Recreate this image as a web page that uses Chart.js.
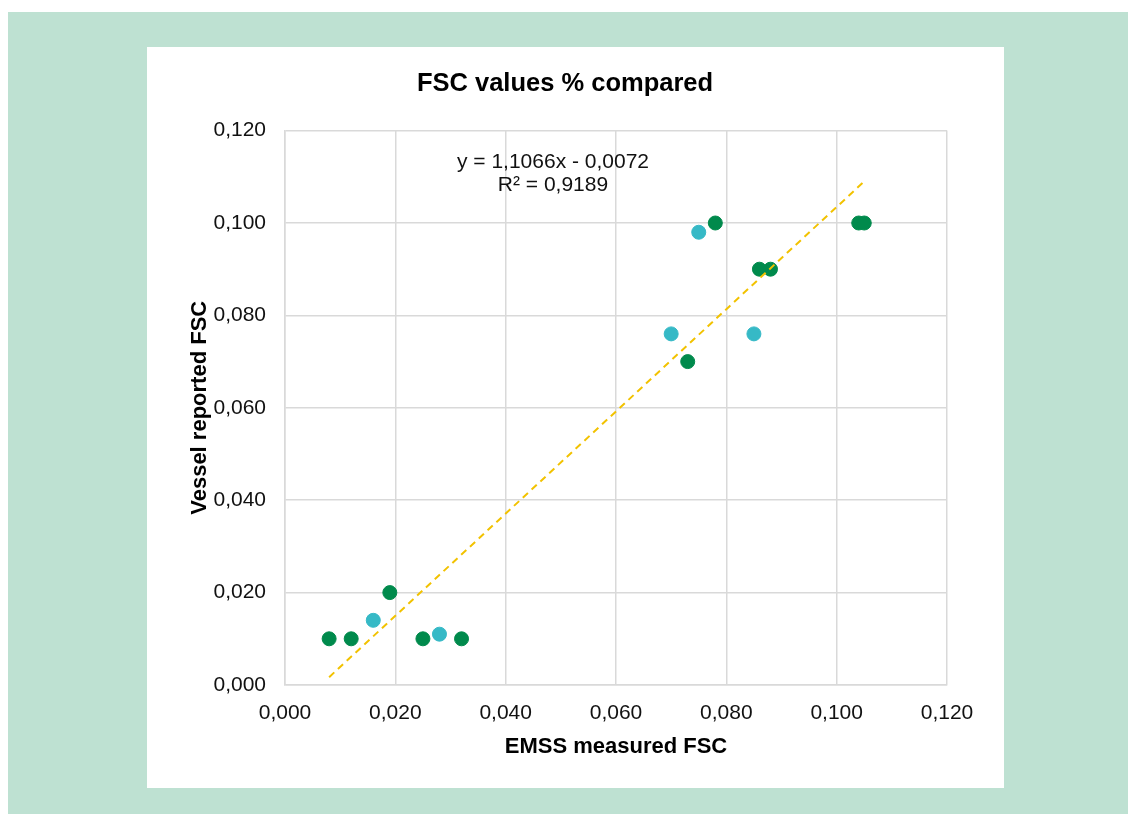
<!DOCTYPE html>
<html>
<head>
<meta charset="utf-8">
<script src="https://cdn.jsdelivr.net/npm/chart.js@4/dist/chart.umd.min.js"></script>
<style>
  html, body { margin: 0; padding: 0; background: #ffffff; width: 1128px; height: 814px; overflow: hidden; }
  #bg { position: absolute; left: 8px; top: 12px; width: 1120px; height: 802px; background: #bee1d2; }
  #panel { position: absolute; left: 147px; top: 47px; width: 857px; height: 741px; background: #ffffff; }
  canvas { display: block; }
</style>
</head>
<body>
<div id="bg"></div>
<div id="panel"><canvas id="c" width="857" height="741"></canvas></div>
<script>
// Series A (dark green): EMSS measured FSC vs vessel reported FSC
const greenX = [0.008, 0.012, 0.019, 0.025, 0.032, 0.073, 0.078, 0.086, 0.088, 0.104, 0.105];
const greenY = [0.010, 0.010, 0.020, 0.010, 0.010, 0.070, 0.100, 0.090, 0.090, 0.100, 0.100];
// Series B (turquoise)
const cyanX = [0.016, 0.028, 0.070, 0.075, 0.085];
const cyanY = [0.014, 0.011, 0.076, 0.098, 0.076];
// Linear trendline end points as drawn
const trendX = [0.008, 0.105];
const trendY = [0.0017, 0.1090];
// Tick values
const tickValues = [0.000, 0.020, 0.040, 0.060, 0.080, 0.100, 0.120];
const titleText = 'FSC values % compared';
const xTitle = 'EMSS measured FSC';
const yTitle = 'Vessel reported FSC';
const eqLines = ['y = 1,1066x - 0,0072', 'R² = 0,9189'];

const toPts = (xs, ys) => xs.map((x, i) => ({ x: x, y: ys[i] }));
const fmt = v => Number(v).toFixed(3).replace('.', ',');
const FONT = "'Liberation Sans', Arial, sans-serif";

const eqPlugin = {
  id: 'eq',
  afterDraw(chart) {
    const ctx = chart.ctx;
    const a = chart.chartArea;
    ctx.save();
    ctx.font = '21px ' + FONT;
    ctx.fillStyle = '#111';
    ctx.textAlign = 'center';
    ctx.textBaseline = 'middle';
    ctx.fillText(eqLines[0], a.left + 268, a.top + 32);
    ctx.fillText(eqLines[1], a.left + 268, a.top + 55);
    ctx.restore();
  }
};

new Chart(document.getElementById('c'), {
  type: 'scatter',
  data: {
    datasets: [
      {
        type: 'line',
        label: 'Trend',
        data: toPts(trendX, trendY),
        borderColor: '#f2c200',
        borderWidth: 2,
        borderDash: [7, 5],
        pointRadius: 0,
        fill: false,
        order: 0
      },
      {
        label: 'A',
        data: toPts(greenX, greenY),
        backgroundColor: '#008a4c',
        borderColor: '#008a4c',
        pointRadius: 7,
        pointHoverRadius: 7,
        order: 1
      },
      {
        label: 'B',
        data: toPts(cyanX, cyanY),
        backgroundColor: '#36b9c6',
        borderColor: '#36b9c6',
        pointRadius: 7,
        pointHoverRadius: 7,
        order: 1
      }
    ]
  },
  options: {
    responsive: false,
    animation: false,
    layout: { padding: { left: 36, right: 57, top: 0, bottom: 24 } },
    plugins: {
      legend: { display: false },
      tooltip: { enabled: false },
      title: {
        display: true,
        text: titleText,
        color: '#000',
        font: { family: FONT, size: 25.5, weight: 'bold' },
        padding: { top: 22, bottom: 31 }
      }
    },
    scales: {
      x: {
        type: 'linear',
        min: 0, max: 0.12,
        afterBuildTicks: s => { s.ticks = tickValues.map(v => ({ value: v })); },
        afterFit: s => { s.height = 79; },
        ticks: { callback: v => fmt(v), color: '#111', font: { family: FONT, size: 21 }, padding: 16, maxRotation: 0 },
        grid: { color: '#d9d9d9', lineWidth: 1.5, drawTicks: false },
        border: { color: '#d9d9d9', width: 1.5 },
        title: { display: true, text: xTitle, color: '#000', font: { family: FONT, size: 22, weight: 'bold' }, padding: { top: 4, bottom: 4 } }
      },
      y: {
        type: 'linear',
        min: 0, max: 0.12,
        afterBuildTicks: s => { s.ticks = tickValues.map(v => ({ value: v })); },
        afterFit: s => { s.width = 102; },
        ticks: { callback: v => fmt(v), color: '#111', font: { family: FONT, size: 21 }, padding: 19 },
        grid: { color: '#d9d9d9', lineWidth: 1.5, drawTicks: false },
        border: { color: '#d9d9d9', width: 1.5 },
        title: { display: true, text: yTitle, color: '#000', font: { family: FONT, size: 22, weight: 'bold' }, padding: { top: 4, bottom: 4 } }
      }
    }
  },
  plugins: [eqPlugin]
});
</script>
</body>
</html>
